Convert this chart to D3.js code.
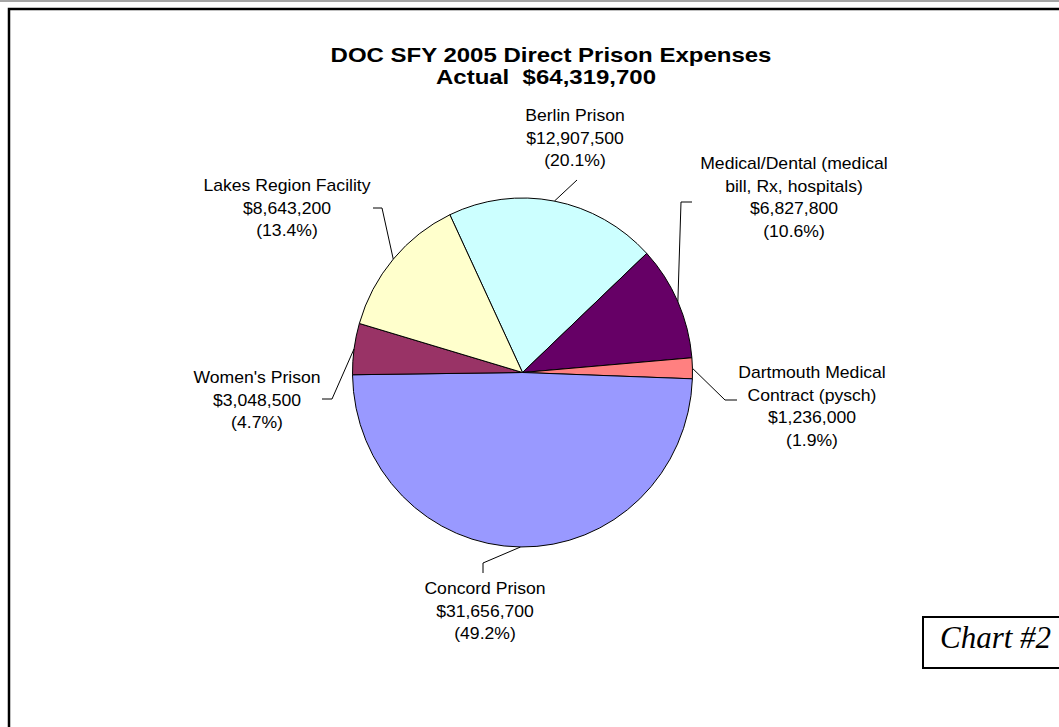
<!DOCTYPE html>
<html>
<head>
<meta charset="utf-8">
<script src="https://cdn.jsdelivr.net/npm/d3@7"></script>
<style>
  html, body { margin: 0; padding: 0; background: #fff; }
  svg { display: block; }
  .lbl { font-family: "Liberation Sans", Arial, sans-serif; font-size: 16px; fill: #000; }
  .ttl { font-family: "Liberation Sans", Arial, sans-serif; font-size: 20px; font-weight: bold; fill: #000; white-space: pre; }
</style>
</head>
<body>
<script>
// Slice data, in drawing order (clockwise)
const categories = [
  "Berlin Prison",
  "Medical/Dental (medical\nbill, Rx, hospitals)",
  "Dartmouth Medical\nContract (pysch)",
  "Concord Prison",
  "Women's Prison",
  "Lakes Region Facility"
];
const expenses = [12907500, 6827800, 1236000, 31656700, 3048500, 8643200];
const sliceColors = ["#CCFFFF", "#660066", "#FF8080", "#9999FF", "#993366", "#FFFFCC"];
const titleLines = ["DOC SFY 2005 Direct Prison Expenses", "Actual  $64,319,700"];

// Label placement: text centre x, first line y, and leader elbow points
const labelLayout = [
  { x: 575, y: 115, elbow: [[577, 180]] },
  { x: 794, y: 163, elbow: [[681, 202], [692, 202]] },
  { x: 812, y: 372, elbow: [[725, 400], [737, 400]] },
  { x: 485, y: 588, elbow: [[483, 563], [483, 573]] },
  { x: 257, y: 377, elbow: [[332, 399], [322, 399]] },
  { x: 287, y: 185, elbow: [[382, 208], [373, 208]] }
];

const W = 1059, H = 727;
const cx = 522.5, cy = 372.5, rx = 170, ry = 174.5;
const startDeg = -25.3;

const svg = d3.select("body").append("svg").attr("width", W).attr("height", H);

// page rule and chart frame
svg.append("rect").attr("x", 0).attr("y", 0).attr("width", W).attr("height", 2).attr("fill", "#a6a6a6");
svg.append("rect").attr("x", 9).attr("y", 9).attr("width", W + 20).attr("height", H + 20)
  .attr("fill", "none").attr("stroke", "#000").attr("stroke-width", 2.5);

// title
svg.selectAll("text.ttl").data(titleLines).join("text")
  .attr("class", "ttl")
  .attr("xml:space", "preserve")
  .attr("text-anchor", "middle")
  .attr("transform", (d, i) => `translate(${i === 0 ? 551 : 546},${62 + i * 22}) scale(1.2,1)`)
  .text(d => d);

const total = d3.sum(expenses);
const money = d3.format("$,");
const pct = d3.format(".1%");

const pie = d3.pie().sort(null)
  .startAngle(startDeg * Math.PI / 180)
  .endAngle(startDeg * Math.PI / 180 + 2 * Math.PI);
const arcs = pie(expenses);
const arc = d3.arc().innerRadius(0).outerRadius(rx);

const g = svg.append("g").attr("transform", `translate(${cx},${cy}) scale(1,${ry / rx})`);
g.selectAll("path").data(arcs).join("path")
  .attr("d", arc)
  .attr("fill", (d, i) => sliceColors[i])
  .attr("stroke", "#000")
  .attr("stroke-width", 1)
  .attr("vector-effect", "non-scaling-stroke");

// edge point at a slice's middle angle
function edgePoint(d) {
  const a = (d.startAngle + d.endAngle) / 2;
  return [cx + rx * Math.sin(a), cy - ry * Math.cos(a)];
}

// leader lines
const line = d3.line();
svg.selectAll("path.leader").data(arcs).join("path")
  .attr("class", "leader")
  .attr("d", (d, i) => line([edgePoint(d), ...labelLayout[i].elbow]))
  .attr("fill", "none").attr("stroke", "#000").attr("stroke-width", 1);

// data labels
arcs.forEach((d, i) => {
  const lines = categories[i].split("\n").concat([money(expenses[i]), "(" + pct(expenses[i] / total) + ")"]);
  const L = labelLayout[i];
  svg.append("g").selectAll("text").data(lines).join("text")
    .attr("class", "lbl")
    .attr("text-anchor", "middle")
    .attr("transform", (t, j) => `translate(${L.x},${L.y + 6 + j * 22.7}) scale(1.1,1)`)
    .text(t => t);
});

// chart tag box
svg.append("rect").attr("x", 923).attr("y", 617).attr("width", 150).attr("height", 51)
  .attr("fill", "#fff").attr("stroke", "#000").attr("stroke-width", 2);
svg.append("text").attr("x", 940).attr("y", 648)
  .attr("font-family", "'Liberation Serif', 'Times New Roman', serif")
  .attr("font-style", "italic").attr("font-size", 31).text("Chart #2");
</script>
</body>
</html>
